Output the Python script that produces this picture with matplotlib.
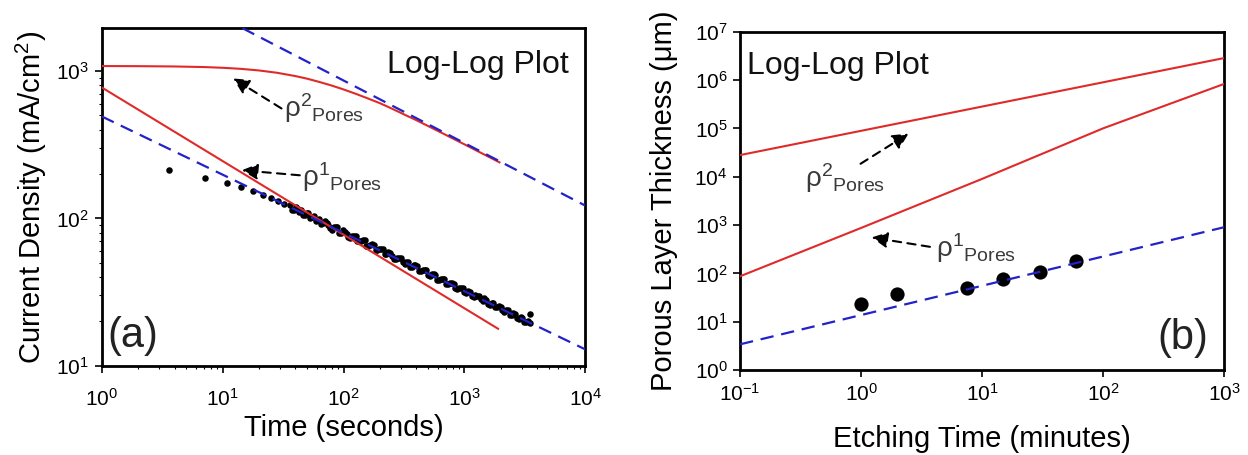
import matplotlib
matplotlib.use("Agg")
import matplotlib.pyplot as plt
from matplotlib.ticker import LogLocator, NullLocator, LogFormatterSciNotation

plt.rcParams['font.family'] = ['Liberation Sans', 'DejaVu Sans']
plt.rcParams['mathtext.fontset'] = 'custom'
plt.rcParams['mathtext.rm'] = 'Liberation Sans'
plt.rcParams['mathtext.it'] = 'Liberation Sans:italic'
plt.rcParams['mathtext.bf'] = 'Liberation Sans:bold'

# ---------------- panel (a): current transient ----------------
time_s = [3.6, 7.1, 10.8, 14.3, 17.9, 21.6, 25.0, 28.8, 32.4,
          36.3, 38.9, 41.7, 44.7, 47.9, 51.3, 55.0, 58.9, 63.1, 67.6,
          72.4, 77.6, 83.2, 89.1, 95.5, 102.3, 109.6, 117.5, 125.9, 134.9,
          144.5, 154.9, 166.0, 177.8, 190.5, 204.2, 218.8, 234.4, 251.2, 269.2,
          288.4, 309.0, 331.1, 354.8, 380.2, 407.4, 436.5, 467.7, 501.2, 537.0,
          575.4, 616.6, 660.7, 707.9, 758.6, 812.8, 871.0, 933.3, 1000, 1071.5,
          1148.2, 1230.3, 1318.3, 1412.5, 1513.6, 1621.8, 1737.8, 1862.1, 1995.3, 2138,
          2291, 2455, 2630, 2818, 3020, 3236, 3467, 3500,
          37.6, 40.3, 43.2, 46.2, 49.5, 53.1, 56.9, 61.0, 65.3, 70.0,
          75.0, 80.4, 86.1, 92.3, 98.9, 105.9, 113.5, 121.6, 130.3, 139.6,
          149.6, 160.3, 171.8, 184.1, 197.2, 211.3, 226.5, 242.7, 260.0, 278.6,
          298.5, 319.9, 342.8, 367.3, 393.6, 421.7, 451.9, 484.2, 518.8, 555.9,
          595.7, 638.3, 683.9, 732.8, 785.2, 841.4, 901.6, 966.1, 1035, 1109,
          1189, 1274, 1365, 1462, 1567, 1679, 1799, 1928, 2065, 2213,
          2371, 2541, 2723, 2917, 3126, 3350]
current_density = [212, 189, 174, 162, 153, 143, 138, 131, 126,
                   122.4, 113.2, 114.9, 113.6, 105.3, 108.3, 102.0, 95.7, 98.9, 92.3,
                   92.8, 85.4, 87.0, 86.7, 79.8, 81.3, 75.2, 76.3, 75.6, 69.9,
                   70.9, 65.3, 66.2, 66.0, 60.7, 61.6, 57.0, 58.9, 55.7, 52.8,
                   54.2, 50.6, 50.9, 46.9, 48.0, 47.6, 43.8, 44.6, 41.3, 41.7,
                   41.5, 38.4, 38.9, 35.8, 36.5, 36.0, 33.2, 33.8, 31.7, 32.3,
                   29.6, 30.0, 29.9, 27.5, 27.9, 25.8, 26.6, 24.9, 25.0, 23.3,
                   23.8, 22.1, 22.3, 20.8, 21.1, 19.8, 19.5, 22.5,
                   113.7, 118.6, 110.2, 104.8, 108.3, 100.1, 103.5, 97.5, 91.4, 95.3,
                   89.8, 83.8, 87.0, 80.1, 83.2, 78.4, 73.2, 75.9, 69.9, 70.6,
                   70.9, 64.7, 66.6, 60.7, 61.6, 61.6, 57.0, 57.8, 53.0, 54.0,
                   53.8, 49.3, 50.4, 47.1, 48.0, 43.8, 44.4, 44.4, 40.7, 41.7,
                   38.2, 38.9, 38.7, 35.8, 36.4, 33.5, 33.8, 33.8, 31.0, 31.6,
                   29.1, 29.8, 28.2, 28.7, 26.2, 26.7, 24.9, 25.6, 23.9, 23.9,
                   22.2, 22.8, 21.2, 21.3, 19.9, 20.0]

fit_low_t = [1, 1e4]
fit_low_j = [492, 12.9]
fit_high_t = [1, 1e4]
fit_high_j = [6100, 122]

rho1_t = [1, 1900]
rho1_j = [774, 17.8]
rho2_t = [1, 2.0, 3.98, 7.08, 10, 14.1, 20, 28.2, 39.8, 50.1, 63.1, 79.4,
          100, 126, 158, 200, 251, 316, 398, 631, 1000, 1950]
rho2_j = [1081, 1079, 1074, 1064, 1052, 1035, 1009, 973, 925, 887, 843, 798,
          750, 701, 653, 605, 556, 508, 465, 385, 318, 240]

# ---------------- panel (b): layer thickness ----------------
etch_min = [1, 2, 7.5, 15, 30, 60]
thickness_um = [23, 37, 50, 77, 107, 180]

fit_b_t = [0.1, 1000]
fit_b_y = [3.4, 900]
rho1_b_t = [0.1, 1, 10, 100, 1000]
rho1_b_y = [87, 870, 9000, 1.0e5, 8.3e5]
rho2_b_t = [0.1, 1000]
rho2_b_y = [2.8e4, 2.85e6]

RED = '#e02a2a'
BLUE = '#2222c8'
DASH = (0, (6, 3.5))
ANNO = '#3a3a3a'
RHO2 = r'$\mathrm{\rho}^{2}{}_{\mathrm{Pores}}$'
RHO1 = r'$\mathrm{\rho}^{1}{}_{\mathrm{Pores}}$'

fig = plt.figure(figsize=(12.48, 4.55), dpi=100)
ax_a = fig.add_axes([0.0815, 0.1963, 0.3875, 0.7415])
ax_b = fig.add_axes([0.593, 0.1868, 0.3878, 0.7435])

for ax in (ax_a, ax_b):
    ax.set_xscale('log')
    ax.set_yscale('log')
    for sp in ax.spines.values():
        sp.set_linewidth(2.0)
    ax.tick_params(which='major', direction='out', length=5, width=1.2,
                   labelsize=15, pad=4)
    ax.tick_params(which='minor', direction='out', length=2.5, width=0.8)
    ax.xaxis.set_major_formatter(LogFormatterSciNotation())
    ax.yaxis.set_major_formatter(LogFormatterSciNotation())

# panel (a)
ax_a.scatter(time_s, current_density, s=22, color='black', zorder=2, linewidths=0)
ax_a.plot(rho1_t, rho1_j, color=RED, lw=1.5, zorder=3)
ax_a.plot(rho2_t, rho2_j, color=RED, lw=1.5, zorder=3)
ax_a.plot(fit_low_t, fit_low_j, color=BLUE, lw=1.6, linestyle=DASH, zorder=4)
ax_a.plot(fit_high_t, fit_high_j, color=BLUE, lw=1.6, linestyle=DASH, zorder=4)
ax_a.set_xlim(1, 1e4)
ax_a.set_ylim(10, 1950)
ax_a.xaxis.set_major_locator(LogLocator(base=10, numticks=10))
ax_a.yaxis.set_major_locator(LogLocator(base=10, numticks=10))
ax_a.xaxis.set_minor_locator(LogLocator(base=10, subs=range(2, 10), numticks=20))
ax_a.yaxis.set_minor_locator(LogLocator(base=10, subs=range(2, 10), numticks=20))
ax_a.tick_params(axis='x', which='major', pad=11)
ax_a.set_xlabel('Time (seconds)', fontsize=21, labelpad=3)
ax_a.set_ylabel('Current Density (mA/cm$^2$)', fontsize=21, labelpad=5)
ax_a.text(0.965, 0.868, 'Log-Log Plot', transform=ax_a.transAxes, fontsize=23,
          ha='right', va='baseline', color='#111111')
ax_a.text(0.012, 0.03, '(a)', transform=ax_a.transAxes, fontsize=30,
          ha='left', va='bottom', color='#222222')

arrow_kw = dict(arrowstyle='-|>', color='black', lw=1.5, linestyle=(0, (4, 3)),
                mutation_scale=24, shrinkA=0, shrinkB=0)
ax_a.annotate('', xy=(12.2, 891), xytext=(30.7, 557), arrowprops=arrow_kw, zorder=5)
ax_a.text(32, 560, RHO2, fontsize=20, color=ANNO, ha='left', va='center')
ax_a.annotate('', xy=(14.4, 212), xytext=(43.5, 196), arrowprops=arrow_kw, zorder=5)
ax_a.text(45, 190, RHO1, fontsize=20, color=ANNO, ha='left', va='center')

# panel (b)
ax_b.plot(rho2_b_t, rho2_b_y, color=RED, lw=1.5, zorder=3)
ax_b.plot(rho1_b_t, rho1_b_y, color=RED, lw=1.5, zorder=3)
ax_b.scatter(etch_min, thickness_um, s=105, color='black', zorder=2, linewidths=0)
ax_b.plot(fit_b_t, fit_b_y, color=BLUE, lw=1.6, linestyle=DASH, zorder=4)
ax_b.set_xlim(0.1, 1000)
ax_b.set_ylim(1, 1e7)
ax_b.xaxis.set_major_locator(LogLocator(base=10, numticks=10))
ax_b.yaxis.set_major_locator(LogLocator(base=10, numticks=10))
ax_b.xaxis.set_minor_locator(NullLocator())
ax_b.yaxis.set_minor_locator(NullLocator())
ax_b.set_xlabel('Etching Time (minutes)', fontsize=21, labelpad=15)
ax_b.set_ylabel('Porous Layer Thickness (\u03bcm)', fontsize=21, labelpad=12)
ax_b.text(0.015, 0.875, 'Log-Log Plot', transform=ax_b.transAxes, fontsize=23,
          ha='left', va='baseline', color='#111111')
ax_b.text(0.968, 0.035, '(b)', transform=ax_b.transAxes, fontsize=30,
          ha='right', va='bottom', color='#222222')
ax_b.annotate('', xy=(2.47, 7.8e4), xytext=(0.99, 1.85e4), arrowprops=arrow_kw, zorder=5)
ax_b.text(0.344, 9.4e3, RHO2, fontsize=20, color=ANNO, ha='left', va='center')
ax_b.annotate('', xy=(1.22, 553), xytext=(3.71, 354), arrowprops=arrow_kw, zorder=5)
ax_b.text(4.2, 331, RHO1, fontsize=20, color=ANNO, ha='left', va='center')

fig.savefig('out.png', dpi=100)
